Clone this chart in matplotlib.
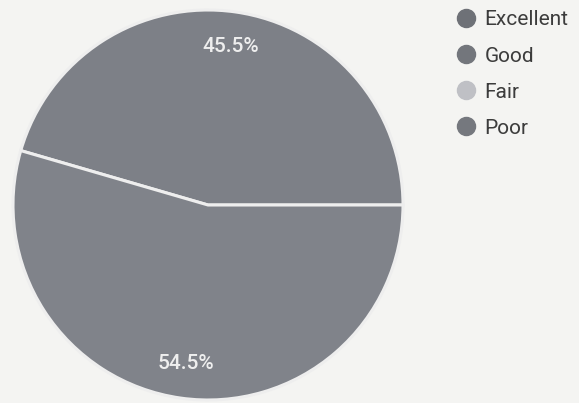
import matplotlib.pyplot as plt
from matplotlib.lines import Line2D

# Data
labels = ['Excellent', 'Good', 'Fair', 'Poor']
shares = [45.5, 54.5, 0.0, 0.0]
colors = ['#7d8087', '#80838a', '#bdbec3', '#777a81']
legend_colors = ['#6e7177', '#73767c', '#bfc0c5', '#75787e']

plt.rcParams['font.family'] = ['Roboto', 'DejaVu Sans']

fig = plt.figure(figsize=(5.79, 4.03), dpi=100)
fig.patch.set_facecolor('#f4f4f2')

# pie axes: centre ~ (208, 205) px, radius ~195 px
ax = fig.add_axes([13 / 579, 3 / 403, 390 / 579, 390 / 403])
vals = [v for v in shares if v > 0]
cols = [c for v, c in zip(shares, colors) if v > 0]
wedges, texts, autotexts = ax.pie(
    vals, colors=cols, startangle=0, counterclock=True,
    autopct='%1.1f%%', pctdistance=0.82,
    wedgeprops=dict(edgecolor='#eeeeee', linewidth=2),
    textprops=dict(color='#eeeeee', fontsize=15, fontweight='medium'))
for w in wedges:
    w.set_linewidth(2.2)
ax.set_aspect('equal')
ax.set_xlim(-1, 1)
ax.set_ylim(-1, 1)

# legend
handles = [Line2D([0], [0], marker='o', linestyle='', markersize=13,
                  markerfacecolor=c, markeredgecolor=c) for c in legend_colors]
fig.legend(handles, labels, loc='upper left', bbox_to_anchor=(441 / 579, 1.005),
           frameon=False, fontsize=15, labelcolor='#3c3c3c',
           handletextpad=0.3, labelspacing=0.82, borderaxespad=0.2,
           handlelength=1.2)

fig.savefig('out.png', dpi=100, facecolor=fig.get_facecolor())
